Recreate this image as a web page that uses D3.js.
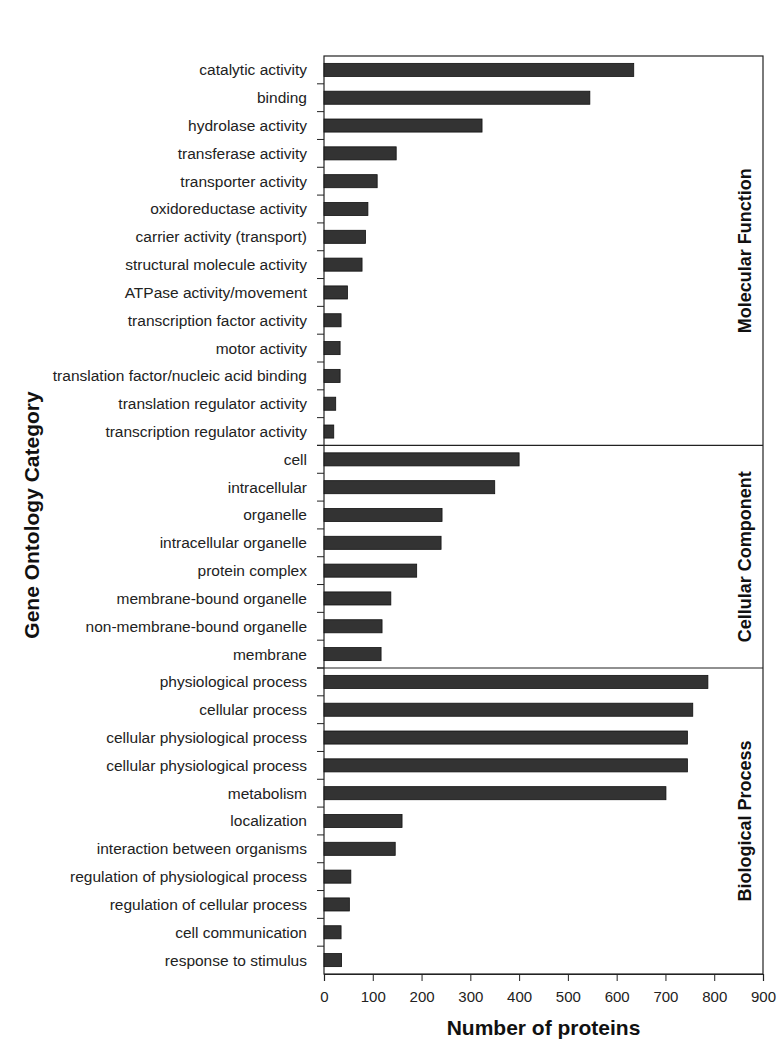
<!DOCTYPE html>
<html>
<head>
<meta charset="utf-8">
<script src="https://cdn.jsdelivr.net/npm/d3@7"></script>
<style>
  body { margin: 0; background: #fff; }
  text { font-family: "Liberation Sans", Arial, sans-serif; }
</style>
</head>
<body>
<div id="wrapper"></div>
<script>
const molecularLabels = ["catalytic activity", "binding", "hydrolase activity", "transferase activity",
  "transporter activity", "oxidoreductase activity", "carrier activity (transport)",
  "structural molecule activity", "ATPase activity/movement", "transcription factor activity",
  "motor activity", "translation factor/nucleic acid binding", "translation regulator activity",
  "transcription regulator activity"]
const molecularValues = [635, 545, 324, 148, 109, 90, 85, 78, 48, 35, 33, 33, 24, 20]

const cellularLabels = ["cell", "intracellular", "organelle", "intracellular organelle", "protein complex",
  "membrane-bound organelle", "non-membrane-bound organelle", "membrane"]
const cellularValues = [400, 350, 242, 240, 190, 137, 119, 117]

const biologicalLabels = ["physiological process", "cellular process", "cellular physiological process",
  "cellular physiological process", "metabolism", "localization", "interaction between organisms",
  "regulation of physiological process", "regulation of cellular process", "cell communication",
  "response to stimulus"]
const biologicalValues = [787, 756, 745, 745, 701, 160, 146, 55, 52, 35, 36]

const sectionNames = ["Molecular Function", "Cellular Component", "Biological Process"]
const xTicks = [0, 100, 200, 300, 400, 500, 600, 700, 800, 900]

const sections = [
  { name: sectionNames[0], labels: molecularLabels, values: molecularValues },
  { name: sectionNames[1], labels: cellularLabels, values: cellularValues },
  { name: sectionNames[2], labels: biologicalLabels, values: biologicalValues },
]

// flatten rows, keep index so duplicate labels get their own band
const rows = []
sections.forEach((s, si) => {
  s.labels.forEach((l, i) => rows.push({ id: rows.length, label: l, value: s.values[i], section: si }))
})

const dimensions = {
  width: 777,
  height: 1050,
  margin: { top: 56, right: 14, bottom: 76, left: 324 }
}
dimensions.boundedWidth = dimensions.width - dimensions.margin.left - dimensions.margin.right
dimensions.boundedHeight = dimensions.height - dimensions.margin.top - dimensions.margin.bottom

const svg = d3.select("#wrapper").append("svg")
  .attr("width", dimensions.width)
  .attr("height", dimensions.height)

const bounds = svg.append("g")
  .attr("transform", `translate(${dimensions.margin.left},${dimensions.margin.top})`)

const xScale = d3.scaleLinear()
  .domain([0, 900])
  .range([0, dimensions.boundedWidth])

const yScale = d3.scaleBand()
  .domain(rows.map(d => d.id))
  .range([0, dimensions.boundedHeight])
  .paddingInner(0.53)
  .paddingOuter(0.265)

const step = yScale.step()
const bandTop = i => yScale(i) - yScale.paddingOuter() * step

// frame
bounds.append("rect")
  .attr("width", dimensions.boundedWidth)
  .attr("height", dimensions.boundedHeight)
  .attr("fill", "none")
  .attr("stroke", "#222")
  .attr("stroke-width", 1.2)

// category ticks at band boundaries
bounds.selectAll(".cat-tick")
  .data(rows.slice(1))
  .enter().append("line")
    .attr("x1", -7)
    .attr("x2", 0)
    .attr("y1", d => bandTop(d.id))
    .attr("y2", d => bandTop(d.id))
    .attr("stroke", "#222")

// section dividers
const dividers = []
let count = 0
sections.slice(0, -1).forEach(s => { count += s.labels.length; dividers.push(count) })
bounds.selectAll(".divider")
  .data(dividers)
  .enter().append("line")
    .attr("x1", -7)
    .attr("x2", dimensions.boundedWidth)
    .attr("y1", d => bandTop(d))
    .attr("y2", d => bandTop(d))
    .attr("stroke", "#222")
    .attr("stroke-width", 1.2)

// bars
bounds.selectAll(".bar")
  .data(rows)
  .enter().append("rect")
    .attr("x", xScale(0))
    .attr("y", d => yScale(d.id))
    .attr("width", d => xScale(d.value) - xScale(0))
    .attr("height", yScale.bandwidth())
    .attr("fill", "#333")
    .attr("stroke", "#111")
    .attr("stroke-width", 0.8)

// category labels
bounds.selectAll(".cat-label")
  .data(rows)
  .enter().append("text")
    .attr("x", -17)
    .attr("y", d => yScale(d.id) + yScale.bandwidth() / 2)
    .attr("dy", "0.35em")
    .attr("text-anchor", "end")
    .attr("font-size", 15.5)
    .attr("fill", "#222")
    .text(d => d.label)

// x axis
const xAxis = d3.axisBottom(xScale)
  .tickValues(xTicks)
  .tickSize(7)
  .tickPadding(10)

const xAxisGroup = bounds.append("g")
  .attr("transform", `translate(0,${dimensions.boundedHeight})`)
  .call(xAxis)
xAxisGroup.select(".domain").attr("stroke", "#222").attr("stroke-width", 1.2)
xAxisGroup.selectAll(".tick line").attr("stroke", "#222")
xAxisGroup.selectAll(".tick text")
  .attr("font-size", 15)
  .attr("font-family", "Liberation Sans, Arial, sans-serif")
  .attr("fill", "#222")

// section labels
let start = 0
sections.forEach(s => {
  const top = bandTop(start)
  const bottom = start + s.labels.length < rows.length ? bandTop(start + s.labels.length) : dimensions.boundedHeight
  const cy = (top + bottom) / 2
  bounds.append("text")
    .attr("transform", `translate(${dimensions.boundedWidth - 18},${cy}) rotate(-90)`)
    .attr("text-anchor", "middle")
    .attr("dy", "0.35em")
    .attr("font-size", 18)
    .attr("font-weight", "bold")
    .attr("fill", "#111")
    .text(s.name)
  start += s.labels.length
})

// axis titles
svg.append("text")
  .attr("x", dimensions.margin.left + dimensions.boundedWidth / 2)
  .attr("y", 1035)
  .attr("text-anchor", "middle")
  .attr("font-size", 21)
  .attr("font-weight", "bold")
  .attr("fill", "#111")
  .text("Number of proteins")

svg.append("text")
  .attr("transform", `translate(32,${dimensions.margin.top + dimensions.boundedHeight / 2}) rotate(-90)`)
  .attr("text-anchor", "middle")
  .attr("dy", "0.35em")
  .attr("font-size", 21)
  .attr("font-weight", "bold")
  .attr("fill", "#111")
  .text("Gene Ontology Category")
</script>
</body>
</html>
